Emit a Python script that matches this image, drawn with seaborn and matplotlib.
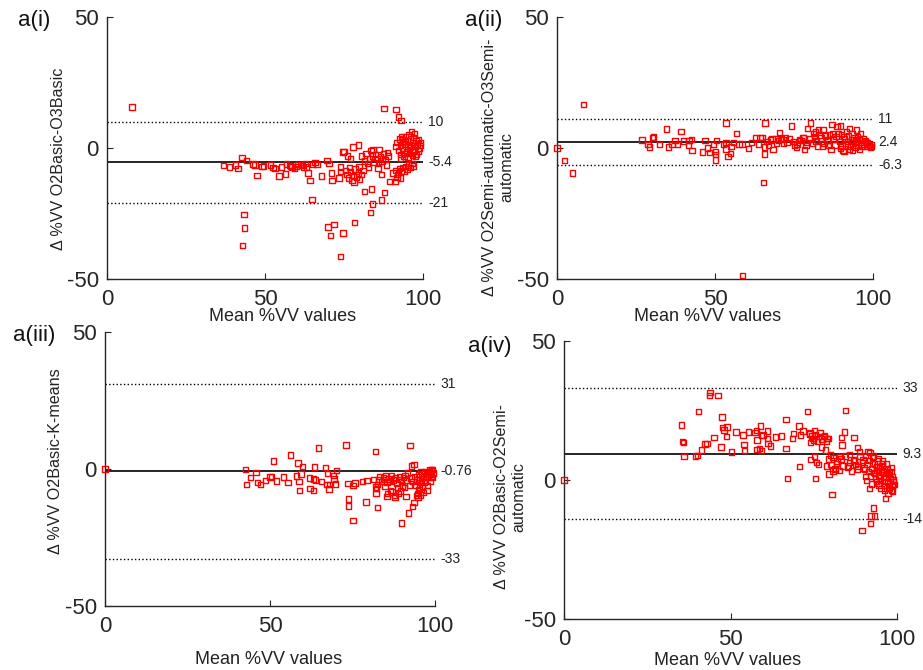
import matplotlib
matplotlib.use("Agg")
import matplotlib.pyplot as plt
import seaborn as sns

# ---- a(i): O2Basic vs O3Basic ----
mean_i = [7.9, 36.8, 38.8, 40.6, 41.4, 42.7, 44.2, 42.8, 43.4, 43.6, 46.2, 46.8, 47.5, 49.1, 49.6,
          51.8, 52.5, 53.2, 54.4, 55.2, 56.4, 56.9, 57.8, 58.6, 59.4, 60.5, 61.2, 62.2, 62.8, 63.6,
          64.3, 64.9, 65.8, 66.5, 67.8, 69.6, 70.2, 71.1, 71.2, 69.9, 71.8, 70.7, 73.4, 73.8, 73.8,
          74.7, 73.8, 74.7, 76.1, 77.0, 77.8, 79.6, 78.3, 75.0,
          75.5, 76.0, 76.5, 77.0, 77.5, 78.0, 78.5, 79.0, 79.5, 80.0, 80.5, 81.0, 76.8, 78.2, 79.8,
          80.5, 81.5, 82.0, 82.5, 83.0, 83.5, 84.0, 84.5, 85.0, 85.5, 86.0, 86.5, 87.0, 87.5, 88.0,
          88.5, 89.0, 84.2, 86.1, 88.7, 82.8, 85.8,
          81.5, 83.8, 84.0, 83.4, 86.9, 87.9, 86.9, 89.6, 91.1, 87.6, 91.4, 92.3, 93.0, 96.4,
          90.5, 91.5, 92.0, 92.5, 93.0, 93.5, 94.0, 94.5, 95.0, 95.5, 96.0, 96.5, 97.0, 91.8, 92.8,
          91.5, 91.8, 92.2, 92.5, 92.8, 93.0, 93.2, 93.5, 93.8, 94.0, 94.2, 94.5, 94.8, 95.0, 95.2,
          95.5, 95.8, 96.0, 96.2, 96.5, 96.8, 97.0, 97.2, 97.5, 97.8, 98.0, 98.2, 98.5, 98.8, 99.0,
          99.2, 95.3, 96.7, 94.3, 97.3, 93.7, 98.5, 92.9, 95.9, 97.6, 58.0, 60.0, 61.8, 63.2, 65.0]
diff_i = [15.7, -6.6, -7.2, -6.5, -7.9, -3.6, -4.7, -37.2, -25.4, -30.6, -6.1, -6.5, -10.4, -7.1, -6.8,
          -6.5, -7.4, -7.9, -10.7, -7.2, -9.9, -6.1, -6.7, -7.3, -7.9, -6.2, -6.3, -7.5, -6.0, -9.5,
          -12.3, -19.7, -5.5, -6.2, -10.7, -4.8, -5.8, -9.6, -12.3, -30.1, -29.1, -33.4, -11.5, -9.0, -7.2,
          -1.5, -41.5, -32.4, -3.0, -4.1, 0.4, 1.1, -28.4, -1.4,
          -8.5, -10.0, -11.5, -9.0, -12.5, -10.5, -8.0, -11.0, -9.5, -12.0, -10.0, -8.5, -7.5, -13.0, -7.0,
          -3.0, -5.0, -2.0, -6.0, -4.0, -1.0, -3.0, -5.5, -2.5, -4.0, -6.0, -3.5, -5.0, -2.0, -4.5,
          -6.5, -3.0, -0.5, -0.5, -1.8, -7.2, -7.6,
          -16.6, -15.7, -21.4, -24.6, -19.9, -17.0, -10.0, -12.9, -12.9, 15.1, 14.7, 11.9, 10.5, 6.3,
          -9.6, -8.5, -10.0, -7.8, -9.0, -7.5, -8.8, -7.0, -8.0, -6.5, -7.5, -6.0, -6.8, -11.2, -11.5,
          0.5, 2.2, -1.0, 3.5, 1.0, -2.5, 4.2, 0.0, 2.5, -3.0, 1.5, 4.5, -1.5, 2.8, 0.5,
          5.0, -2.0, 3.5, 1.0, -0.5, 2.0, 4.0, -1.0, 0.8, 2.8, -2.5, 1.5, 3.2, 0.0, 1.0,
          2.0, -3.5, -2.8, -2.2, 5.5, 3.3, -1.2, -3.8, 0.2, -3.2, -6.8, -7.0, -6.6, -7.2, -6.4]
limits_i = [10, -5.4, -21]

# ---- a(ii): O2Semi-automatic vs O3Semi-automatic ----
mean_ii = [0.0, 2.4, 4.9, 8.3, 26.9, 28.8, 29.2, 30.2, 30.6, 32.5, 34.7, 35.3, 36.4, 37.4, 38.2,
           39.2, 40.1, 41.6, 41.8, 42.6, 42.7, 46.1, 46.8, 47.6, 48.3, 49.5, 50.1, 50.2, 50.2, 50.4,
           52.7, 53.5, 53.5, 53.5, 54.1, 54.9, 55.1, 55.8, 56.9, 57.6, 58.6, 58.8, 60.6, 61.6, 63.0,
           63.8, 64.3, 64.9, 65.4, 65.6, 65.7, 65.8, 67.0, 67.5, 68.3, 69.1, 70.5, 71.0, 71.7, 72.4,
           74.2, 75.2, 76.8, 78.1, 78.4, 79.3, 80.2, 81.2, 81.9, 82.5, 82.8, 83.1, 84.2, 85.4, 86.7,
           87.0, 87.1, 88.6, 89.1, 89.7, 90.5, 90.7, 92.6, 94.7, 96.0, 97.6, 98.6, 99.6,
           66.5, 68.0, 69.5, 70.0, 71.5, 72.8, 73.5, 74.8, 76.0, 77.2, 77.8, 79.0, 80.0, 80.8, 81.5,
           82.0, 83.5, 84.5, 85.0, 85.8, 86.3, 87.5, 88.0, 88.3, 89.5, 90.0, 90.2, 91.0, 91.3, 91.6,
           92.0, 92.2, 92.8, 93.1, 93.4, 93.7, 94.0, 94.3, 94.6, 95.0, 95.3, 95.6, 96.2, 96.5, 96.8,
           97.2, 97.5, 97.9, 98.2, 98.8, 99.2, 99.5, 93.5, 92.5, 95.8, 89.8, 90.8, 84.0, 86.0, 78.8,
           75.8]
diff_ii = [0.0, -4.8, -9.6, 16.5, 3.0, 1.4, 0.4, 4.1, 4.2, 1.3, 7.2, 0.4, 1.4, 2.8, 1.4,
           6.3, 2.7, 0.9, 2.9, 3.2, -1.0, -1.5, 2.8, 0.0, -1.8, 1.3, -2.4, -1.3, -4.6, 2.9,
           1.3, 9.5, 2.2, -0.4, -3.3, -2.0, 0.5, 2.2, 5.6, 1.5, 1.5, -48.7, -0.3, 2.0, 4.1,
           1.5, 4.1, 4.1, -13.2, -2.3, 0.4, 9.5, 1.1, 3.0, -0.5, 3.7, 5.8, 3.7, 1.8, 3.8,
           8.4, 1.1, 3.3, 4.1, -0.5, 7.4, 9.5, 5.6, 6.1, 0.8, 6.9, 4.9, 7.1, 3.0, -0.5,
           9.0, 5.6, 8.1, 5.6, 8.4, -1.0, 4.3, 7.5, 6.9, 5.6, 2.4, 1.4, 0.5,
           2.5, 3.5, 1.8, 2.8, 3.2, 2.0, 3.6, 2.4, 1.5, 2.8, 3.9, 2.2, 3.4, 1.9, 4.4,
           2.6, 3.8, 1.7, 4.6, 2.9, 5.2, 3.3, 1.2, 4.4, 2.5, 5.1, 0.8, 3.5, 1.6, 6.2,
           2.4, 4.6, 0.6, 3.1, 5.4, 1.9, 3.9, 0.2, 2.7, 4.4, 1.2, 3.3, 2.1, 0.8, 3.6,
           1.5, 2.9, 0.6, 2.0, 1.0, 0.2, 1.3, -1.0, -0.5, -0.6, -0.3, -1.3, 0.5, 1.0, 1.0,
           0.2]
limits_ii = [11, 2.4, -6.3]

# ---- a(iii): O2Basic vs K-means ----
mean_iii = [0.0, 42.5, 42.9, 44.1, 45.8, 46.2, 47.2, 48.7, 50.0, 50.5, 51.1, 51.9, 54.0, 55.4, 56.3,
            58.0, 58.5, 58.8, 59.0, 59.4, 59.8, 62.0, 62.1, 63.1, 63.2, 63.4, 63.8, 64.7, 65.7, 66.9,
            67.3, 67.5, 67.9, 68.1, 69.2, 69.4, 69.9, 70.2, 73.0, 73.6, 73.7, 73.7, 75.1, 75.2, 75.8,
            78.1, 79.1, 79.4, 81.3, 81.9, 82.0, 82.1, 82.5, 83.3, 84.3, 85.4, 85.7, 86.4, 87.0, 87.9,
            88.6, 89.4, 89.8, 90.2, 90.9, 91.2, 91.9, 92.4, 92.9, 93.1, 93.6, 93.6, 94.4, 94.9, 95.3,
            99.0,
            94.5, 95.0, 95.2, 95.5, 95.8, 96.0, 96.2, 96.5, 96.8, 97.0, 97.2, 97.5, 97.8, 98.0, 98.2,
            98.5, 98.7, 99.0, 99.2, 99.5, 97.6, 96.4, 95.6, 94.8, 99.3, 98.9, 97.3, 96.1, 98.4, 95.9,
            93.8, 94.2, 93.3, 92.7, 92.2, 91.7, 91.4, 90.5, 89.8, 89.2, 88.5, 88.0, 87.4, 86.8, 86.1,
            85.5, 85.0, 84.3, 83.7, 83.0, 82.5, 82.2, 84.8, 86.5, 87.8, 88.9, 89.6, 90.8]
diff_iii = [0.0, -0.2, -5.7, -3.2, -1.2, -4.9, -5.7, -4.3, -2.9, -2.7, 2.9, -4.4, -2.9, -4.9, 5.1,
            -2.6, 2.2, -4.5, -7.8, -1.8, 1.0, -3.3, -7.1, -3.6, -7.9, 0.7, -4.0, 7.7, -4.6, 0.6,
            -5.7, -1.7, -7.3, -5.7, -2.3, -3.6, -5.5, -0.5, 8.8, -5.2, -10.9, -13.5, -6.1, -18.9, -5.1,
            -4.5, -12.0, -4.3, -3.9, 6.4, -6.6, -9.0, -14.1, -2.7, -3.9, -10.0, -9.0, -4.6, -8.4, -10.2,
            -6.8, -3.9, -19.7, -6.2, -2.4, -10.0, -16.1, 8.5, 1.1, -13.6, 1.7, -12.2, -9.6, -9.0, -6.6,
            -0.2,
            -4.0, -2.0, -7.5, -5.0, -1.0, -3.5, -6.5, -2.5, -5.0, -0.8, -4.0, -2.0, -6.0, -3.0, -1.0,
            -4.5, -2.0, -0.5, -3.0, -1.5, -7.8, -8.6, -9.5, -10.5, -0.2, -2.6, -3.2, -1.6, -0.4, -4.3,
            -2.8, -5.9, -4.5, -3.3, -6.0, -1.5, -4.0, -3.2, -4.5, -2.8, -5.2, -3.0, -4.0, -2.3, -3.6,
            -5.0, -2.5, -3.2, -4.6, -3.8, -5.6, -7.2, -6.5, -7.8, -9.6, -9.0, -8.0, -6.8]
limits_iii = [31, -0.76, -33]

# ---- a(iv): O2Basic vs O2Semi-automatic ----
mean_iv = [0.0, 35.3, 35.6, 35.8, 36.0, 39.4, 40.0, 40.3, 41.2, 42.3, 42.9, 43.7, 43.9, 45.0, 46.3,
           47.1, 47.4, 47.6, 48.1, 48.8, 49.0, 50.3, 51.7, 53.7, 54.1, 54.2, 55.4, 57.4, 57.8, 58.0,
           58.0, 58.8, 59.0, 59.3, 59.4, 59.8, 61.1, 61.2, 61.3, 62.0, 63.6, 65.3, 66.7, 66.7, 67.1,
           68.6, 69.0, 70.6, 70.8, 71.1, 71.8, 73.1, 73.8, 74.0, 74.1, 74.8, 75.2, 75.3, 75.5, 75.8,
           76.4, 76.8, 77.4, 78.1, 78.5, 78.8, 79.0, 79.6, 80.0, 80.5, 80.8, 81.5, 81.8, 82.8, 83.3,
           83.5, 84.3, 84.6, 85.3, 85.8, 87.1, 87.3, 88.1, 88.3, 88.8, 89.5, 89.8, 90.1, 90.5, 90.8,
           91.3, 91.8, 92.0, 92.2, 92.6, 93.0, 93.2, 93.3, 93.8, 94.3, 94.8, 95.2, 95.6, 95.8, 96.3,
           96.6, 97.0, 97.3, 97.8, 98.0, 98.3, 98.8, 99.0,
           91.0, 91.4, 91.7, 92.0, 92.3, 92.6, 92.9, 93.2, 93.5, 93.8, 94.1, 94.4, 94.7, 95.0, 95.3,
           95.5, 95.9, 96.1, 96.4, 96.7, 97.0, 97.2, 97.5, 97.7, 98.0, 98.2, 98.5, 98.7, 99.0, 99.2,
           98.6, 97.4, 96.2, 94.6, 93.9, 92.4, 90.3, 89.6, 88.9, 90.6, 91.9, 93.0, 94.3, 95.7, 96.9,
           98.4,
           79.5, 80.2, 80.8, 81.4, 82.0, 82.6, 83.2, 83.8, 84.5, 85.1, 85.7, 86.3, 86.9, 87.5, 88.2,
           73.9, 74.5, 75.0, 75.6, 76.2, 76.9, 77.5, 78.2, 78.8, 79.3]
diff_iv = [0.0, 19.8, 13.8, 13.4, 8.4, 8.7, 8.9, 24.7, 10.8, 12.9, 13.2, 30.4, 31.4, 15.2, 30.3,
           11.9, 22.6, 18.9, 18.0, 15.7, 19.0, 10.1, 17.2, 16.2, 12.8, 10.5, 17.2, 17.0, 17.8, 14.4,
           11.0, 11.3, 19.4, 15.9, 10.5, 16.2, 17.6, 15.0, 13.2, 12.2, 15.4, 15.8, 21.7, 11.3, 0.5,
           14.9, 16.8, 19.4, 4.8, 16.2, 17.6, 24.7, 16.5, 13.4, 7.4, 14.9, 17.8, 8.4, 0.5, 6.3,
           5.6, 15.6, 11.9, 15.6, 10.8, 5.1, 14.9, 2.2, 9.0, -5.3, 3.2, 3.8, 6.0, 8.4, 15.3,
           12.6, 17.2, 24.9, 5.1, 9.1, 15.3, 7.2, 11.6, 4.8, 10.2, -18.2, 7.2, 4.3, 1.2, -0.2,
           10.2, -3.0, -15.6, -12.9, 6.0, -10.1, -12.9, 2.4, 4.8, -1.2, 1.2, -3.0, 6.0, 3.0, -0.6,
           -6.6, 2.4, -4.8, 2.6, 0.6, -3.6, 0.0, -1.6,
           5.5, 3.0, 7.0, 1.5, 4.2, 8.0, 2.6, 5.8, 0.5, 3.5, 6.8, 1.8, 4.5, -0.2, 2.8,
           5.2, 0.8, 3.8, -2.0, 1.5, 4.2, -1.0, 2.0, -3.0, 0.5, 3.0, -2.2, 1.2, -0.5, -1.6,
           -4.0, -2.5, -3.8, -1.8, -0.6, -1.5, 3.8, 6.4, 8.5, 8.9, 9.9, 8.6, 7.8, 6.9, 5.8,
           4.4,
           7.5, 5.5, 8.2, 4.2, 6.8, 3.4, 7.6, 5.0, 8.6, 4.4, 6.2, 3.2, 7.0, 5.5, 3.9,
           16.9, 15.8, 14.2, 16.3, 13.8, 17.0, 14.8, 16.1, 13.9, 15.0]
limits_iv = [33, 9.3, -14]

panel_tags = ["a(i)", "a(ii)", "a(iii)", "a(iv)"]
y_labels = ["Δ %VV O2Basic-O3Basic",
            "Δ %VV O2Semi-automatic-O3Semi-\nautomatic",
            "Δ %VV O2Basic-K-means",
            "Δ %VV O2Basic-O2Semi-\nautomatic"]
x_label = "Mean %VV values"
x_ticks = [0, 50, 100]
y_ticks = [-50, 0, 50]

sns.set_theme(style="white")
plt.rcParams["font.family"] = ["Liberation Sans", "DejaVu Sans"]
plt.rcParams["axes.unicode_minus"] = False

W, H = 923, 670
fig = plt.figure(figsize=(W / 100, H / 100), dpi=100)


def rect(left, right, top, bottom):
    return [left / W, 1 - bottom / H, (right - left) / W, (bottom - top) / H]


layout = [
    dict(rect=rect(107, 423, 17, 279), ylab=(-0.155, 0.458), xlab=(0.554, -0.145), tag=(18, 26)),
    dict(rect=rect(557, 873, 17, 279), ylab=(-0.185, 0.428), xlab=(0.478, -0.145), tag=(465, 26)),
    dict(rect=rect(105, 435, 332, 606), ylab=(-0.150, 0.529), xlab=(0.497, -0.195), tag=(13, 341)),
    dict(rect=rect(564, 897, 341, 619), ylab=(-0.162, 0.439), xlab=(0.492, -0.150), tag=(468, 352)),
]

series = [(mean_i, diff_i, limits_i), (mean_ii, diff_ii, limits_ii),
          (mean_iii, diff_iii, limits_iii), (mean_iv, diff_iv, limits_iv)]

for k, ((mx, dy, lims), lay) in enumerate(zip(series, layout)):
    ax = fig.add_axes(lay["rect"])
    ax.set_facecolor("white")
    sns.scatterplot(x=mx, y=dy, ax=ax, marker="s", s=15, facecolor="none",
                    edgecolor="red", linewidth=1.0, clip_on=False, zorder=3)
    upper, bias, lower = lims
    for val, style, lw in [(upper, ":", 1.0), (bias, "-", 1.2), (lower, ":", 1.0)]:
        ax.axhline(val, color="black", ls=style, lw=lw, zorder=2)
        ax.text(1.016, val, f"{val:g}", transform=ax.get_yaxis_transform(),
                ha="left", va="center", fontsize=10, color="#222222")
    ax.set_xlim(0, 100)
    ax.set_ylim(-50, 50)
    ax.set_xticks(x_ticks)
    ax.set_yticks(y_ticks)
    sns.despine(ax=ax)
    for side in ("left", "bottom"):
        ax.spines[side].set_color("#262626")
        ax.spines[side].set_linewidth(1.0)
    ax.tick_params(direction="in", length=4, width=0.8, labelsize=16,
                   colors="#262626", left=True, bottom=True)
    ax.tick_params(axis="x", pad=7)
    ax.tick_params(axis="y", pad=6)
    ax.set_ylabel(y_labels[k], fontsize=11.6, va="center", ha="center", color="#222222")
    ax.yaxis.set_label_coords(*lay["ylab"])
    ax.set_xlabel(x_label, fontsize=13, va="center", ha="center", color="#222222")
    ax.xaxis.set_label_coords(*lay["xlab"])
    tx, ty = lay["tag"]
    fig.text(tx / W, 1 - ty / H, panel_tags[k], fontsize=16, ha="left", va="baseline",
             color="#111111")

fig.savefig("out.png", dpi=100, facecolor="white")
